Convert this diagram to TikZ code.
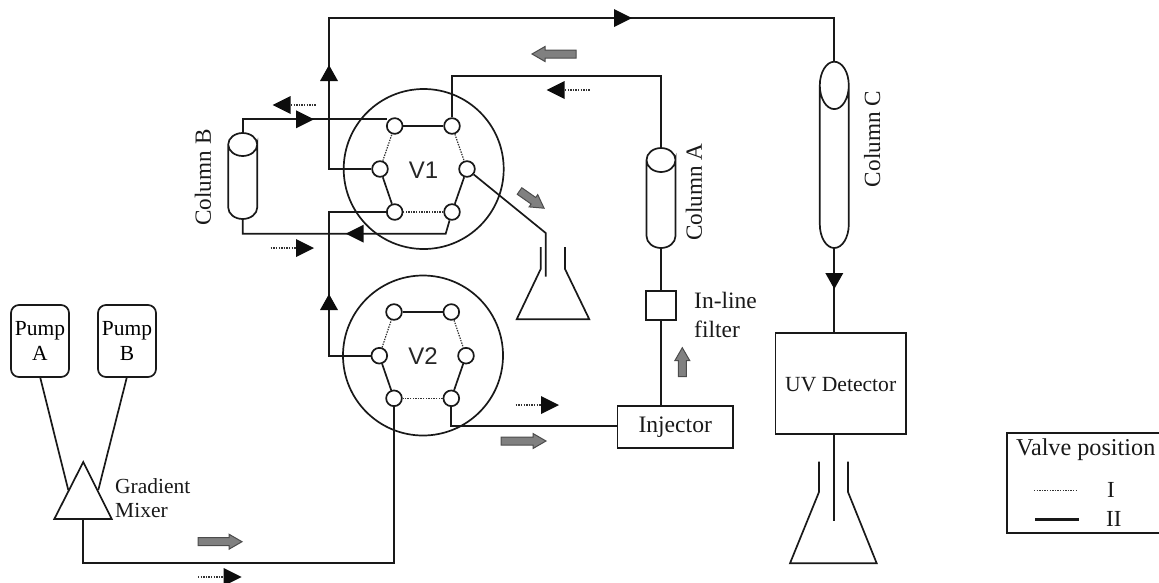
\documentclass[tikz,border=0pt]{standalone}
\usepackage{fontspec}
\setmainfont{Liberation Serif}
\newfontfamily\vfont{Liberation Sans}
\tikzset{
  x=1pt,y=-1pt,
  wire/.style={line width=1.7pt,black!90,line join=miter},
  body/.style={line width=1.7pt,black!90},
  dotline/.style={line width=1.2pt,black!80,dash pattern=on 1.4pt off 1.2pt},
  port/.style={circle,draw=black!90,line width=1.7pt,fill=white,minimum size=15.7pt,inner sep=0pt},
  valve/.style={circle,draw=black!90,line width=1.7pt,minimum size=160pt,inner sep=0pt},
  lab/.style={font=\fontsize{23.2}{24}\selectfont,inner sep=0pt,text=black!90},
  vlab/.style={font=\vfont\fontsize{24}{26}\selectfont,inner sep=0pt,text=black!85},
  boxn/.style={draw=black!90,line width=1.7pt,inner sep=0pt},
  pumpn/.style={boxn,rounded corners=8pt,minimum width=58pt,minimum height=72pt,align=center,font=\fontsize{21.5}{25}\selectfont},
  grey/.style={fill=black!50,draw=black!70,line width=1pt,line join=miter}
}
\newcommand{\tipR}[2]{\fill[black!95] (#1,#2) -- ++(-18,-9) -- ++(0,18) -- cycle;}
\newcommand{\tipL}[2]{\fill[black!95] (#1,#2) -- ++(18,-9) -- ++(0,18) -- cycle;}
\newcommand{\tipU}[2]{\fill[black!95] (#1,#2) -- ++(-9,16) -- ++(18,0) -- cycle;}
\newcommand{\tipD}[2]{\fill[black!95] (#1,#2) -- ++(-9,-16) -- ++(18,0) -- cycle;}
% grey block arrow: x, y, angle (counter-clockwise on the page), length
\newcommand{\gArrow}[4]{\path[grey,shift={(#1,#2)},rotate=#3] (0,-4) -- (#4-13,-4) -- (#4-13,-7.5) -- (#4,0) -- (#4-13,7.5) -- (#4-13,4) -- (0,4) -- cycle;}
\newcommand{\colbody}[5]{%
  \draw[body] (#2-14.5,#3+#5) -- (#2-14.5,#4-#5) arc[start angle=180,end angle=360,x radius=14.5,y radius=-#5] -- (#2+14.5,#3+#5) arc[start angle=0,end angle=360,x radius=14.5,y radius=#5];
  \coordinate (#1t) at (#2,#3);
  \coordinate (#1b) at (#2,#4);
}
\begin{document}
\begin{tikzpicture}
\useasboundingbox (0,0) rectangle (1159,582);
% valves
\node[valve] (v1) at (423.7,169) {};
\node[valve] (v2) at (423,355.5) {};
\node[vlab] at (423.5,170) {V1};
\node[vlab] at (423,356) {V2};
% ports V1
\node[port] (a1) at (394.7,126) {};
\node[port] (a2) at (452,126) {};
\node[port] (a3) at (467,169) {};
\node[port] (a4) at (452,212) {};
\node[port] (a5) at (394.7,212) {};
\node[port] (a6) at (380,169) {};
% ports V2
\node[port] (b1) at (394,312) {};
\node[port] (b2) at (451.3,312) {};
\node[port] (b3) at (466,355.7) {};
\node[port] (b4) at (451.3,398.3) {};
\node[port] (b5) at (394,398.3) {};
\node[port] (b6) at (379.3,355.7) {};
% inner connections
\draw[wire] (a1) -- (a2);
\draw[wire] (a3) -- (a4);
\draw[wire] (a5) -- (a6);
\draw[dotline] (a2) -- (a3);
\draw[dotline] (a4) -- (a5);
\draw[dotline] (a6) -- (a1);
\draw[wire] (b1) -- (b2);
\draw[wire] (b3) -- (b4);
\draw[wire] (b5) -- (b6);
\draw[dotline] (b2) -- (b3);
\draw[dotline] (b4) -- (b5);
\draw[dotline] (b6) -- (b1);
% Columns
\colbody{cb}{242.7}{133}{219}{11.5}
\colbody{ca}{661}{148}{248}{12}
\colbody{cc}{834.3}{61.7}{248}{23.7}
\node[lab,rotate=90] at (203,177.5) {Column B};
\node[lab,rotate=90] at (694,192) {Column A};
\node[lab,rotate=90] at (872.3,139) {Column C};
% filter / injector / detector
\node[boxn,minimum width=30pt,minimum height=29.3pt] (fil) at (661,305.4) {};
\node[lab,anchor=west,align=left,font=\fontsize{23.5}{29}\selectfont] at (694,315) {In-line\\filter};
\node[boxn,minimum width=115.7pt,minimum height=42.6pt,lab,font=\fontsize{23.6}{25}\selectfont] (inj) at (675.2,427) {Injector};
\node[boxn,minimum width=130.7pt,minimum height=101pt] (uv) at (840.7,383.5) {};
\node[lab,font=\fontsize{21.6}{24}\selectfont] at (840.7,385) {UV Detector};
% pumps
\node[pumpn] (pa) at (40,341) {Pump\\A};
\node[pumpn] (pb) at (127,341) {Pump\\B};
\coordinate (mt) at (83.3,462);
\coordinate (ml) at (54.3,519);
\coordinate (mr) at (111.7,519);
\coordinate (mb) at (83.3,519);
\draw[wire] (40,376.7) -- (68.3,490);
\draw[wire] (127,376.7) -- (98.3,490);
\draw[body,line join=miter] (mt) -- (ml) -- (mr) -- cycle;
\node[lab,anchor=west,align=left,font=\fontsize{21.5}{24}\selectfont] at (115,498) {Gradient\\Mixer};
% wires
\draw[wire] (a6) -- (329,169) -- (329,18) -- (834.3,18) -- (cct);
\draw[wire] (cbt) -- (242.7,119.3) -- (387,119.3);
\draw[wire] (cbb) -- (242.7,233.7) -- (445.7,233.7) -- (a4);
\draw[wire] (a5) -- (329,212) -- (329,355.7) -- (b6);
\draw[wire] (a2) -- (452,76) -- (661,76) -- (cat);
\draw[wire] (cab) -- (fil);
\draw[wire] (fil) -- (inj.north -| fil);
\draw[wire] (b4) -- (451.3,425.7) -- (inj.west |- 0,425.7);
\draw[wire] (b5) -- (394,562.7) -- (83.3,562.7) -- (mb);
\draw[wire] (ccb) -- (uv.north -| ccb);
\draw[wire] (a3) -- (545.7,233) -- (545.7,276.7);
% flask 1
\draw[body] (540.7,247) -- (540.7,269) -- (516.7,319.3) -- (589.3,319.3) -- (565,269) -- (565,247);
% flask 2
\draw[body] (819,461.7) -- (819,492) -- (790,563.3) -- (876.7,563.3) -- (848,492) -- (848,461.7);
\draw[wire] (uv.south -| ccb) -- (834.3,521);
% tips
\tipU{329}{65}
\tipU{329}{294}
\tipR{632}{18}
\tipR{314}{119.3}
\tipL{345.7}{233.7}
\tipD{834.3}{289}
% dotted flow arrows
\tipL{272.7}{105} \draw[dotline] (291,105) -- (316,105);
\tipR{314}{248} \draw[dotline] (270.7,248) -- (296,248);
\tipR{559}{405} \draw[dotline] (515.7,405) -- (541,405);
\tipR{241.7}{577} \draw[dotline] (198,577) -- (224,577);
\tipL{546.7}{90} \draw[dotline] (565,90) -- (590,90);
% grey arrows
\gArrow{198}{541.7}{0}{44}
\gArrow{501}{441}{0}{45}
\gArrow{576}{54}{180}{44}
\gArrow{519.5}{191}{-35}{30}
\gArrow{682.3}{376.7}{90}{29}
% legend
\draw[line width=2pt,black!90] (1159,433.3) -- (1006.7,433.3) -- (1006.7,533.3) -- (1159,533.3);
\node[lab,anchor=west,font=\fontsize{24.2}{26}\selectfont] at (1016,450) {Valve position};
\node[lab,font=\fontsize{23}{24}\selectfont] at (1111,490) {I};
\node[lab,font=\fontsize{23}{24}\selectfont] at (1113.8,519) {II};
\draw[dotline] (1034,490.7) -- (1078,490.7);
\coordinate (ls) at (1035,519.3); \coordinate (le) at (1079,519.3);
\draw[line width=2.4pt,black!90] (ls) -- (le);
\end{tikzpicture}
\end{document}
